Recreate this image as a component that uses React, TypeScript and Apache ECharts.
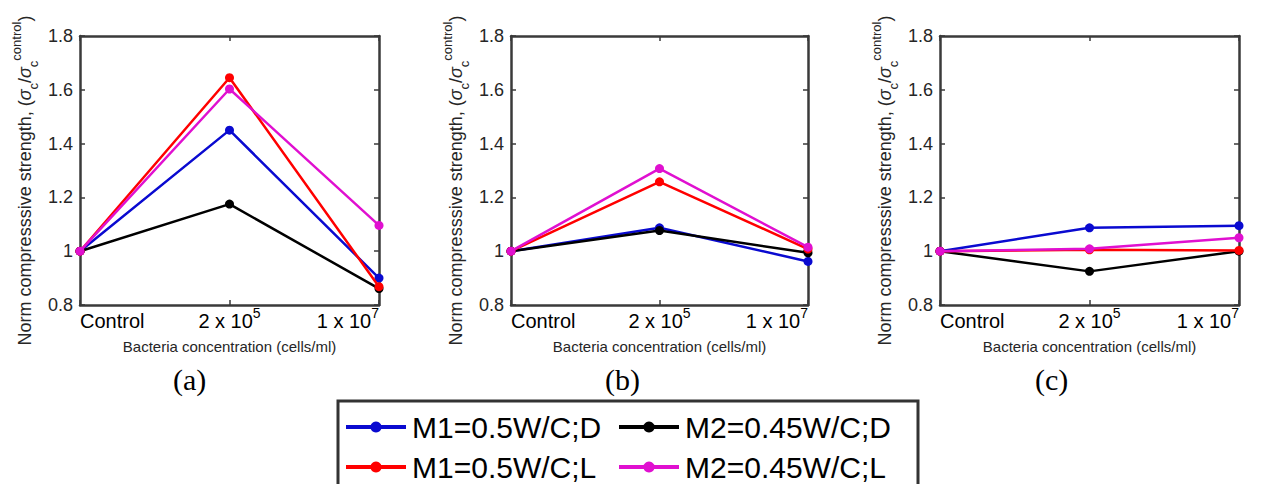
import React, { useEffect, useRef } from "react";
import * as echarts from "echarts";

const categories = ["Control", "2 x 10^5", "1 x 10^7"];
const seriesNames = ["M1=0.5W/C;D", "M2=0.45W/C;D", "M1=0.5W/C;L", "M2=0.45W/C;L"];
const seriesColors = ["#0a0ad0", "#000000", "#ff0000", "#e010d0"];

// Panel (a)
const m1D_a = [1, 1.45, 0.9];
const m2D_a = [1, 1.175, 0.861];
const m1L_a = [1, 1.645, 0.868];
const m2L_a = [1, 1.603, 1.096];
// Panel (b)
const m1D_b = [1, 1.087, 0.962];
const m2D_b = [1, 1.077, 0.994];
const m1L_b = [1, 1.258, 1.008];
const m2L_b = [1, 1.307, 1.015];
// Panel (c)
const m1D_c = [1, 1.087, 1.095];
const m2D_c = [1, 0.925, 1.0];
const m1L_c = [1, 1.005, 1.003];
const m2L_c = [1, 1.009, 1.05];

const panelData = [
  [m1D_a, m2D_a, m1L_a, m2L_a],
  [m1D_b, m2D_b, m1L_b, m2L_b],
  [m1D_c, m2D_c, m1L_c, m2L_c],
];
const panelLabels = ["(a)", "(b)", "(c)"];

const yMin = 0.8;
const yMax = 1.8;
const yInterval = 0.2;

const FONT = "'Liberation Sans', Arial, Helvetica, sans-serif";
const SERIF = "'Liberation Serif', 'Times New Roman', serif";
const AXIS_COLOR = "#3a3a3a";
const TEXT_COLOR = "#262626";

const grids = [
  { left: 80, top: 36, width: 299, height: 269 },
  { left: 511, top: 36, width: 297, height: 269 },
  { left: 940, top: 36, width: 299, height: 269 },
];
const panelLabelX = [190, 622, 1052];

export default function App() {
  const ref = useRef<HTMLDivElement>(null);
  useEffect(() => {
    if (!ref.current) return;
    const chart = echarts.init(ref.current, undefined, { renderer: "svg" });

    const xAxes: any[] = [];
    const yAxes: any[] = [];
    const series: any[] = [];

    grids.forEach((g, gi) => {
      xAxes.push({
        type: "category",
        gridIndex: gi,
        data: categories,
        boundaryGap: false,
        position: "bottom",
        axisLine: { show: true, lineStyle: { color: AXIS_COLOR, width: 2.5 } },
        axisTick: { show: true, inside: true, length: 5, lineStyle: { color: AXIS_COLOR, width: 1.5 } },
        splitLine: { show: false },
        axisLabel: {
          margin: 1,
          alignMinLabel: "left",
          alignMaxLabel: "right",
          formatter: (v: string) => {
            const parts = v.split("^");
            if (parts.length === 2) return "{b|" + parts[0] + "}{s|" + parts[1] + "}";
            return "{b|" + v + "}";
          },
          rich: {
            b: { fontSize: 20, fontFamily: FONT, color: "#000", lineHeight: 30 },
            s: { fontSize: 14, fontFamily: FONT, color: "#000", lineHeight: 14, verticalAlign: "top" },
          },
        },
        name: "Bacteria concentration (cells/ml)",
        nameLocation: "middle",
        nameGap: 34,
        nameTextStyle: { fontSize: 15, fontFamily: FONT, color: TEXT_COLOR },
      });
      xAxes.push({
        type: "category",
        gridIndex: gi,
        data: categories,
        boundaryGap: false,
        position: "top",
        axisLine: { show: true, lineStyle: { color: AXIS_COLOR, width: 2.5 } },
        axisTick: { show: true, inside: true, length: 5, lineStyle: { color: AXIS_COLOR, width: 1.5 } },
        axisLabel: { show: false },
        splitLine: { show: false },
      });
      yAxes.push({
        type: "value",
        gridIndex: gi,
        min: yMin,
        max: yMax,
        interval: yInterval,
        position: "left",
        axisLine: { show: true, lineStyle: { color: AXIS_COLOR, width: 2.5 } },
        axisTick: { show: true, inside: true, length: 5, lineStyle: { color: AXIS_COLOR, width: 1.5 } },
        splitLine: { show: false },
        axisLabel: {
          margin: 7,
          fontSize: 18,
          fontFamily: FONT,
          color: TEXT_COLOR,
          formatter: (v: number) => String(Number(v.toFixed(1))),
        },
        name:
          "{n|Norm compresssive strength, (}{g|σ}{sub|c}{n|/}{g|σ}{sub|c}{sup|control}{n|)}",
        nameLocation: "middle",
        nameGap: 40,
        nameTextStyle: {
          padding: [0, 20, 0, 0],
          rich: {
            n: { fontSize: 18, fontFamily: FONT, color: TEXT_COLOR, lineHeight: 30 },
            g: { fontSize: 18, fontFamily: FONT, fontStyle: "italic", color: TEXT_COLOR, lineHeight: 30 },
            sub: { fontSize: 13, fontFamily: FONT, color: TEXT_COLOR, lineHeight: 13, verticalAlign: "bottom" },
            sup: { fontSize: 13, fontFamily: FONT, color: TEXT_COLOR, lineHeight: 13, verticalAlign: "top" },
          },
        },
      });
      yAxes.push({
        type: "value",
        gridIndex: gi,
        min: yMin,
        max: yMax,
        interval: yInterval,
        position: "right",
        axisLine: { show: true, lineStyle: { color: AXIS_COLOR, width: 2.5 } },
        axisTick: { show: true, inside: true, length: 5, lineStyle: { color: AXIS_COLOR, width: 1.5 } },
        axisLabel: { show: false },
        splitLine: { show: false },
      });

      panelData[gi].forEach((vals, si) => {
        series.push({
          type: "line",
          name: seriesNames[si],
          xAxisIndex: gi * 2,
          yAxisIndex: gi * 2,
          data: vals,
          symbol: "circle",
          symbolSize: 9,
          showSymbol: true,
          lineStyle: { color: seriesColors[si], width: 2.5 },
          itemStyle: { color: seriesColors[si] },
          z: 3 + si,
        });
      });
    });

    const legendCommon = {
      orient: "vertical",
      top: 412,
      padding: 0,
      itemGap: 10,
      itemWidth: 60,
      itemHeight: 14,
      selectedMode: false,
      lineStyle: { width: 4 },
      textStyle: { fontSize: 30, fontFamily: FONT, color: "#000", lineHeight: 30, padding: [0, 0, 0, 1] },
    };

    chart.setOption({
      animation: false,
      backgroundColor: "#ffffff",
      grid: grids.map((g) => ({ ...g, containLabel: false })),
      xAxis: xAxes,
      yAxis: yAxes,
      series,
      legend: [
        { ...legendCommon, left: 344, data: [seriesNames[0], seriesNames[2]] },
        { ...legendCommon, left: 617, data: [seriesNames[1], seriesNames[3]] },
      ],
      graphic: [
        ...panelLabels.map((t, i) => ({
          type: "text",
          left: panelLabelX[i] - 17,
          top: 364,
          style: { text: t, fontSize: 30, fontFamily: SERIF, fill: "#000" },
        })),
        {
          type: "rect",
          shape: { x: 338, y: 401, width: 580, height: 110 },
          style: { fill: "none", stroke: "#333333", lineWidth: 3 },
        },
      ],
    });
    return () => chart.dispose();
  }, []);

  return (
    <div
      ref={ref}
      style={{ position: "fixed", left: 0, top: 0, width: 1262, height: 484, background: "#fff" }}
    />
  );
}
